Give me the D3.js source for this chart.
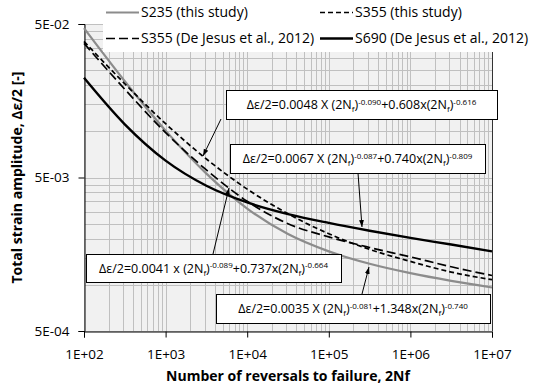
<!DOCTYPE html>
<html>
<head>
  <meta charset="utf-8">
  <script src="https://cdn.jsdelivr.net/npm/d3@7"></script>
  <style>
body { margin: 0; background: #fff; }
svg { font-family: "Open Sans", sans-serif; }
.tick-label { font-size: 13.5px; fill: #000; }
.axis-title { font-size: 14px; font-weight: bold; fill: #000; }
.legend text { font-size: 14px; fill: #000; }
.eq-box { fill: #fff; stroke: #000; stroke-width: 1px; }
.eq text { font-size: 12.5px; fill: #000; }
  </style>
</head>
<body>
<svg width="542" height="389"></svg>
<script>

// values
const reversals = [100, 316, 1000, 3162, 10000, 31623, 100000, 316228, 1000000, 3162278, 10000000];
const s235 = [0.0470, 0.0212, 0.0101, 0.0053, 0.00314, 0.00214, 0.00165, 0.00137, 0.00119, 0.00106, 0.00096];
const s355 = [0.0385, 0.0204, 0.0112, 0.0066, 0.0042, 0.0029, 0.00215, 0.00170, 0.00142, 0.00121, 0.00108];
const s355DeJesus = [0.0374, 0.0188, 0.0098, 0.0056, 0.0035, 0.0025, 0.00205, 0.00175, 0.00152, 0.00131, 0.00115];
const s690 = [0.0223, 0.0111, 0.00644, 0.00442, 0.00344, 0.00289, 0.00253, 0.00225, 0.00202, 0.00183, 0.00165];

const seriesNames = ["S235 (this study)", "S355 (this study)", "S355 (De Jesus et al., 2012)", "S690 (De Jesus et al., 2012)"];
const xTickValues = [1e2, 1e3, 1e4, 1e5, 1e6, 1e7];
const xTickLabels = ["1E+02", "1E+03", "1E+04", "1E+05", "1E+06", "1E+07"];
const yTickValues = [5e-4, 5e-3, 5e-2];
const yTickLabels = ["5E-04", "5E-03", "5E-02"];

// equation labels: [lead, exponent1, middle, exponent2]
const equations = [
  ["\u0394\u03b5/2=0.0048 X (2N", "-0.090", "+0.608x(2N", "-0.616"],
  ["\u0394\u03b5/2=0.0067 X (2N", "-0.087", "+0.740x(2N", "-0.809"],
  ["\u0394\u03b5/2=0.0041 x (2N", "-0.089", "+0.737x(2N", "-0.664"],
  ["\u0394\u03b5/2=0.0035 X (2N", "-0.081", "+1.348x(2N", "-0.740"]
];

const svg = d3.select("svg");
const pLeft = 84, pRight = 492, pTop = 24, pBottom = 331;

const x = d3.scaleLog().domain([1e2, 1e7]).range([pLeft, pRight]);
const y = d3.scaleLog().domain([5e-4, 5e-2]).range([pBottom, pTop]);

const crisp = v => Math.round(v) + 0.5;

// plot area
svg.append("rect")
   .attr("x", pLeft).attr("y", pTop)
   .attr("width", pRight - pLeft).attr("height", pBottom - pTop)
   .attr("fill", "#f1f1f1");

var xGrid = [];
for (var e = 2; e < 7; e++) {
  for (var k = 1; k < 10; k++) xGrid.push(k * Math.pow(10, e));
}
xGrid.push(1e7);

var yGrid = [];
for (var e = -4; e < -2; e++) {
  for (var k = 1; k < 10; k++) yGrid.push(5 * k * Math.pow(10, e));
}
yGrid.push(5e-2);

var grid = svg.append("g").attr("stroke", "#c0c0c0").attr("stroke-width", 1);
grid.selectAll(".vg").data(xGrid).enter().append("line")
    .attr("x1", d => crisp(x(d))).attr("x2", d => crisp(x(d)))
    .attr("y1", pTop).attr("y2", pBottom);
grid.selectAll(".hg").data(yGrid).enter().append("line")
    .attr("y1", d => crisp(y(d))).attr("y2", d => crisp(y(d)))
    .attr("x1", pLeft).attr("x2", pRight);

// axes frame
svg.append("line")
   .attr("x1", crisp(pRight)).attr("x2", crisp(pRight))
   .attr("y1", pTop).attr("y2", pBottom)
   .attr("stroke", "#333");

var xAxis = svg.append("g")
   .attr("transform", `translate(0,${crisp(pBottom)})`)
   .call(d3.axisBottom(x).tickValues(xTickValues).tickSize(6).tickFormat((d, i) => xTickLabels[i]));
var yAxis = svg.append("g")
   .attr("transform", `translate(${crisp(pLeft)},0)`)
   .call(d3.axisLeft(y).tickValues(yTickValues).tickSize(6).tickFormat((d, i) => yTickLabels[i]));

[xAxis, yAxis].forEach(a => {
  a.attr("font-family", null).attr("font-size", null);
  a.select(".domain").attr("stroke", "#000");
  a.selectAll(".tick line").attr("stroke", "#000");
  a.selectAll(".tick text").attr("class", "tick-label");
});
xAxis.selectAll(".tick text").attr("dy", "1.4em");
yAxis.selectAll(".tick text").attr("dx", "-6px");

// curves
var line = d3.line()
             .x(d => x(d[0]))
             .y(d => y(d[1]))
             .curve(d3.curveMonotoneX);

var styles = [
  {data: s235, stroke: "#8c8c8c", width: 2.2, dash: null},
  {data: s355, stroke: "#000", width: 1.7, dash: "5,3"},
  {data: s355DeJesus, stroke: "#000", width: 1.7, dash: "9,4"},
  {data: s690, stroke: "#000", width: 2.4, dash: null}
];

var curves = svg.append("g").attr("fill", "none");
styles.forEach(s => {
  curves.append("path")
        .datum(reversals.map((n, i) => [n, s.data[i]]))
        .attr("d", line)
        .attr("stroke", s.stroke)
        .attr("stroke-width", s.width)
        .attr("stroke-dasharray", s.dash);
});

// legend
var legend = svg.append("g").attr("class", "legend");
legend.append("rect")
      .attr("x", 103).attr("y", 0).attr("width", 439).attr("height", 52)
      .attr("fill", "#fff");

var legendPos = [[106, 12.5], [320, 12.5], [106, 38.5], [320, 38.5]];
styles.forEach((s, i) => {
  var p = legendPos[i];
  legend.append("line")
        .attr("x1", p[0]).attr("x2", p[0] + 33)
        .attr("y1", p[1]).attr("y2", p[1])
        .attr("stroke", s.stroke)
        .attr("stroke-width", s.width)
        .attr("stroke-dasharray", s.dash);
  legend.append("text")
        .attr("x", p[0] + 35).attr("y", p[1])
        .attr("dy", "0.35em")
        .text(seriesNames[i]);
});

// equation boxes with arrows
var boxes = [
  {x: 226, y: 90, w: 271, h: 29, from: [221, 119], to: [203, 156]},
  {x: 230, y: 144, w: 255, h: 29, from: [358, 173], to: [362, 227]},
  {x: 86, y: 254, w: 255, h: 28, from: [213, 254], to: [229, 188]},
  {x: 216, y: 294, w: 274, h: 29, from: [362, 294], to: [369, 267]}
];

svg.append("defs").append("marker")
   .attr("id", "arrow")
   .attr("viewBox", "0 0 10 10")
   .attr("refX", 10).attr("refY", 5)
   .attr("markerWidth", 7).attr("markerHeight", 7)
   .attr("orient", "auto")
   .append("path")
   .attr("d", "M0,1.5L10,5L0,8.5Z")
   .attr("fill", "#000");

var eq = svg.append("g").attr("class", "eq");
boxes.forEach((b, i) => {
  eq.append("line")
    .attr("x1", b.from[0]).attr("y1", b.from[1])
    .attr("x2", b.to[0]).attr("y2", b.to[1])
    .attr("stroke", "#000").attr("stroke-width", 1)
    .attr("marker-end", "url(#arrow)");
  eq.append("rect")
    .attr("class", "eq-box")
    .attr("x", b.x + 0.5).attr("y", b.y + 0.5)
    .attr("width", b.w).attr("height", b.h);

  var parts = equations[i];
  var t = eq.append("text")
            .attr("x", b.x + b.w / 2)
            .attr("y", b.y + b.h / 2 + 4.5)
            .attr("text-anchor", "middle");
  t.append("tspan").text(parts[0]);
  t.append("tspan").attr("font-size", "8px").attr("dy", 3).text("f");
  t.append("tspan").attr("dy", -3).text(")");
  t.append("tspan").attr("font-size", "8px").attr("dy", -4.5).text(parts[1]);
  t.append("tspan").attr("dy", 4.5).text(parts[2]);
  t.append("tspan").attr("font-size", "8px").attr("dy", 3).text("f");
  t.append("tspan").attr("dy", -3).text(")");
  t.append("tspan").attr("font-size", "8px").attr("dy", -4.5).text(parts[3]);
});

// axis titles
svg.append("text")
   .attr("class", "axis-title")
   .attr("x", (pLeft + pRight) / 2).attr("y", 381)
   .attr("text-anchor", "middle")
   .text("Number of reversals to failure, 2Nf");

svg.append("text")
   .attr("class", "axis-title")
   .attr("transform", `translate(22,${(pTop + pBottom) / 2}) rotate(-90)`)
   .attr("text-anchor", "middle")
   .text("Total strain amplitude, \u0394\u03b5/2 [-]");

</script>
</body>
</html>
